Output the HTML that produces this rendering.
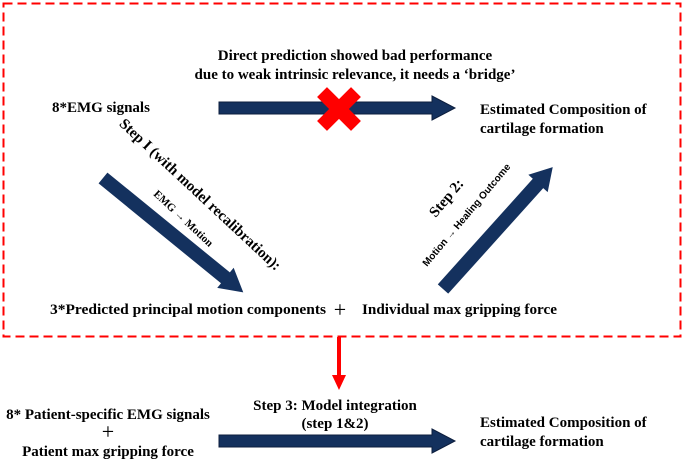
<!DOCTYPE html>
<html><head><style>body{margin:0;background:#fff}svg{display:block}</style></head>
<body>
<svg width="685" height="462" viewBox="0 0 685 462" xmlns="http://www.w3.org/2000/svg" font-family="Liberation Serif, serif" font-weight="bold" fill="#000">
<rect x="3.5" y="3.5" width="677" height="333" fill="none" stroke="#f00" stroke-width="2" stroke-dasharray="9,5"/>
<text x="355" y="60" font-size="15" text-anchor="middle">Direct prediction showed bad performance</text>
<text x="355" y="79" font-size="15" text-anchor="middle">due to weak intrinsic relevance, it needs a ‘bridge’</text>
<text x="52" y="112" font-size="15">8*EMG signals</text>
<polygon points="219,102 432,102 432,96 455,108 432,120 432,114 219,114" fill="#14315e" stroke="#0d1e3d" stroke-width="1"/>
<g transform="translate(339,109) rotate(45)" fill="#f00">
<rect x="-24" y="-7" width="48" height="14"/><rect x="-7" y="-24" width="14" height="48"/></g>
<text x="480" y="114" font-size="15">Estimated Composition of</text>
<text x="480" y="133" font-size="15">cartilage formation</text>
<g transform="translate(103,178) rotate(39.2)">
<polygon points="0,-7 158,-7 158,-13 181,0 158,13 158,7 0,7" fill="#14315e"/></g>
<text transform="translate(197,198) rotate(43)" font-size="15" text-anchor="middle">Step I (with model recalibration):</text>
<text transform="translate(181,221) rotate(43)" font-size="11" text-anchor="middle">EMG → Motion</text>
<g transform="translate(443,289) rotate(-48)">
<polygon points="0,-7 142,-7 142,-13 164,0 142,13 142,7 0,7" fill="#14315e"/></g>
<text transform="translate(450,201) rotate(-50)" font-size="15" text-anchor="middle">Step 2:</text>
<text transform="translate(469,217) rotate(-50)" font-size="10" font-family="Liberation Sans, sans-serif" text-anchor="middle">Motion → Healing Outcome</text>
<text x="50" y="314" font-size="15" textLength="276" lengthAdjust="spacingAndGlyphs">3*Predicted principal motion components</text>
<text x="340" y="317" font-size="22" font-weight="normal" text-anchor="middle">+</text>
<text x="362" y="314" font-size="15" textLength="195" lengthAdjust="spacingAndGlyphs">Individual max gripping force</text>
<rect x="337" y="337" width="4" height="39" fill="#f00"/>
<polygon points="332,375 346,375 339,390" fill="#f00"/>
<text x="335" y="410" font-size="15" text-anchor="middle">Step 3: Model integration</text>
<text x="335" y="428" font-size="15" text-anchor="middle">(step 1&amp;2)</text>
<polygon points="219,435 432,435 432,429 455,441 432,453 432,447 219,447" fill="#14315e" stroke="#0d1e3d" stroke-width="1"/>
<text x="108" y="419" font-size="15" text-anchor="middle">8* Patient-specific EMG signals</text>
<text x="108" y="439" font-size="22" font-weight="normal" text-anchor="middle">+</text>
<text x="108" y="456" font-size="15" text-anchor="middle">Patient max gripping force</text>
<text x="480" y="427" font-size="15">Estimated Composition of</text>
<text x="480" y="446" font-size="15">cartilage formation</text>
</svg>
</body></html>
